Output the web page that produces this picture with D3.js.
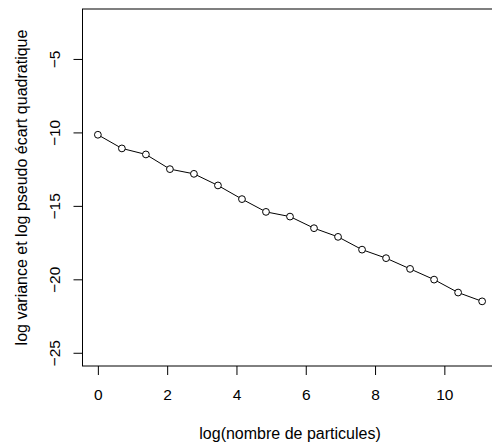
<!DOCTYPE html>
<html>
<head>
<meta charset="utf-8">
<script src="https://cdn.jsdelivr.net/npm/d3@7"></script>
<style>
  body { margin: 0; background: #fff; }
  svg { display: block; font-family: "Liberation Sans", Arial, sans-serif; }
</style>
</head>
<body>
<div id="chart"></div>
<script>

// number of particles = 2^k, k = 0..16
var logParticles = [0, 1, 2, 3, 4, 5, 6, 7, 8, 9, 10, 11, 12, 13, 14, 15, 16].map(function(k){ return k * Math.LN2; });
var logVariance = [-10.16, -11.09, -11.5, -12.5, -12.82, -13.61, -14.54, -15.41, -15.73,
                   -16.52, -17.11, -17.98, -18.56, -19.29, -20.02, -20.9, -21.5];
var xTicks = [0, 2, 4, 6, 8, 10];
var yTicks = [-25, -20, -15, -10, -5];

var width = 492, height = 447;
var margin = {top: 9, right: -5.5, bottom: 81, left: 82.5};
var fontSize = 15.5;

var svg = d3.select("#chart").append("svg")
  .attr("width", width)
  .attr("height", height);

// R style 4% padding on both axes
var x = d3.scaleLinear()
  .domain([-0.4436, 11.534])
  .range([margin.left, width - margin.right]);

var y = d3.scaleLinear()
  .domain([-25.9, -1.6])
  .range([height - margin.bottom, margin.top]);

// plot box
svg.append("rect")
  .attr("x", margin.left)
  .attr("y", margin.top)
  .attr("width", width - margin.right - margin.left)
  .attr("height", height - margin.bottom - margin.top)
  .attr("fill", "none")
  .attr("stroke", "#000")
  .attr("stroke-width", 1);

var xAxis = svg.append("g")
  .attr("transform", "translate(0," + (height - margin.bottom) + ")")
  .call(d3.axisBottom(x).tickValues(xTicks).tickSize(9).tickFormat(d3.format("d")));
xAxis.select(".domain").remove();
xAxis.selectAll("text")
  .attr("font-size", fontSize)
  .attr("fill", "#000")
  .attr("font-family", "Liberation Sans, Arial, sans-serif")
  .attr("dy", null)
  .attr("y", 30)
  .attr("dominant-baseline", "middle");

var yAxis = svg.append("g")
  .attr("transform", "translate(" + margin.left + ",0)")
  .call(d3.axisLeft(y).tickValues(yTicks).tickSize(9).tickFormat(function(d){ return d < 0 ? "\u2212" + Math.abs(d) : d; }));
yAxis.select(".domain").remove();
yAxis.selectAll("text")
  .attr("font-size", fontSize)
  .attr("fill", "#000")
  .attr("font-family", "Liberation Sans, Arial, sans-serif")
  .attr("text-anchor", "middle")
  .attr("dy", null)
  .attr("x", null)
  .attr("transform", "translate(-27,0) rotate(-90)")
  .attr("y", 0)
  .attr("dominant-baseline", "middle");

// line + points (type = "b")
var line = d3.line()
  .x(function(d, i){ return x(logParticles[i]); })
  .y(function(d){ return y(d); });

svg.append("path")
  .datum(logVariance)
  .attr("d", line)
  .attr("fill", "none")
  .attr("stroke", "#000")
  .attr("stroke-width", 1);

svg.selectAll("circle.pt")
  .data(logVariance)
  .enter().append("circle")
    .attr("class", "pt")
    .attr("cx", function(d, i){ return x(logParticles[i]); })
    .attr("cy", function(d){ return y(d); })
    .attr("r", 3.4)
    .attr("fill", "#fff")
    .attr("stroke", "#000")
    .attr("stroke-width", 1);

// axis titles
svg.append("text")
  .attr("x", 290)
  .attr("y", 435)
  .attr("text-anchor", "middle")
  .attr("dominant-baseline", "middle")
  .attr("font-size", 16)
  .text("log(nombre de particules)");

svg.append("text")
  .attr("transform", "translate(23," + ((margin.top + height - margin.bottom) / 2) + ") rotate(-90)")
  .attr("text-anchor", "middle")
  .attr("dominant-baseline", "middle")
  .attr("font-size", 16)
  .text("log variance et log pseudo écart quadratique");

</script>
</body>
</html>
